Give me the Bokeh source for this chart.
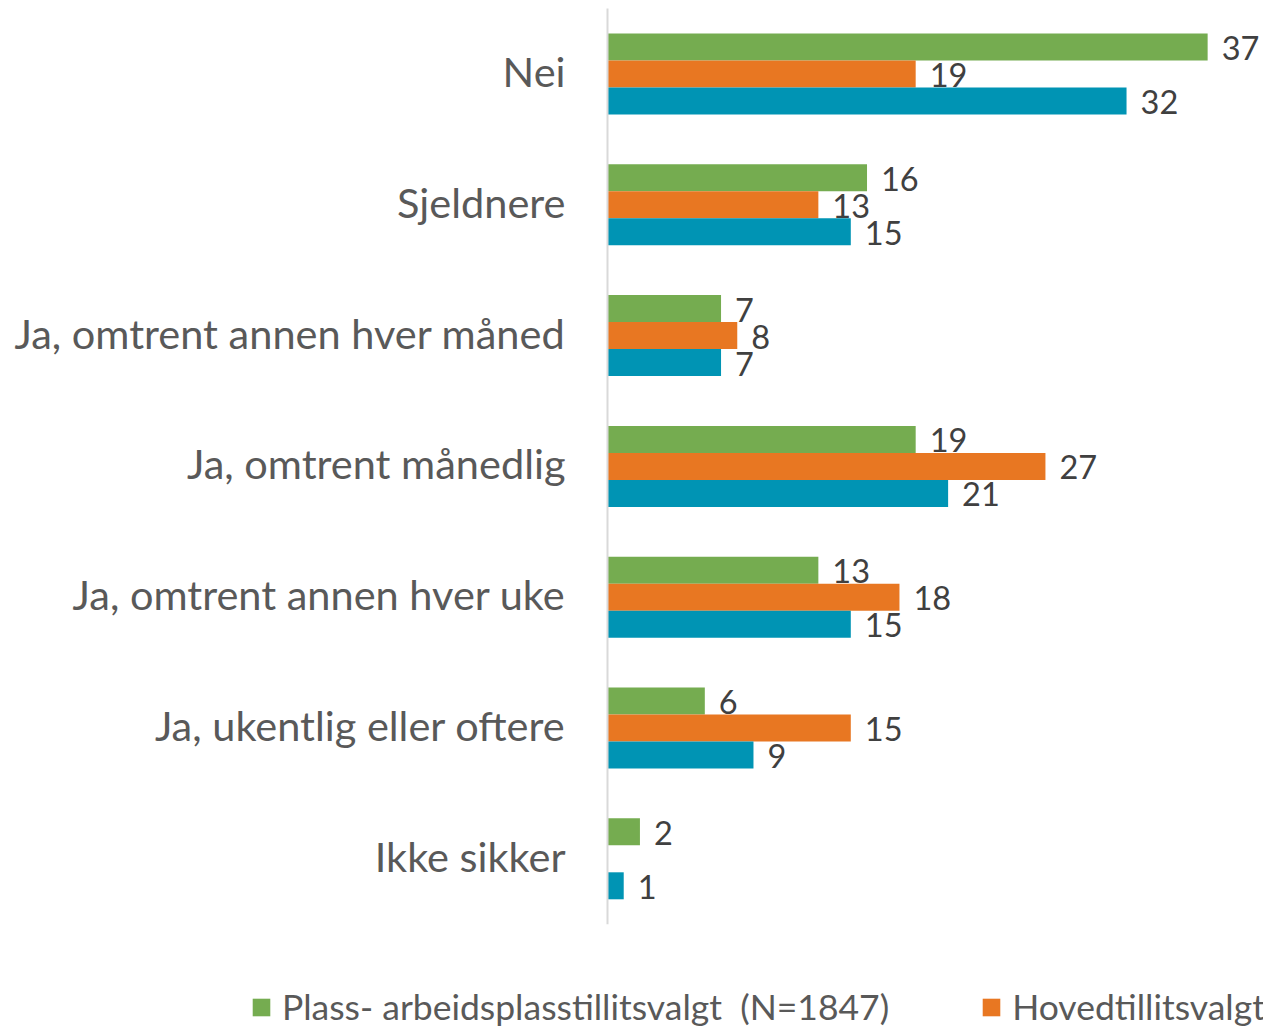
from bokeh.plotting import figure
from bokeh.models import ColumnDataSource, Range1d, LabelSet, Legend, LegendItem
from bokeh.core.properties import value
from bokeh.embed import file_html
from bokeh.resources import INLINE
import numpy as np

categories = ["Nei", "Sjeldnere", "Ja, omtrent annen hver måned", "Ja, omtrent månedlig",
              "Ja, omtrent annen hver uke", "Ja, ukentlig eller oftere", "Ikke sikker"]
plass = [37, 16, 7, 19, 13, 6, 2]
hoved = [19, 13, 8, 27, 18, 15, 0]
third = [32, 15, 7, 21, 15, 9, 1]
series_names = ["Plass- arbeidsplasstillitsvalgt  (N=1847)", "Hovedtillitsvalgt"]
colors = ["#75AC50", "#E87722", "#0094B4"]

FONT = "Lato"
W, H = 1263, 1027
PX_PER_UNIT = 16.22
X0 = 607
CAT_STEP = 130.8
CAT0 = 73.5
BAR_H = 27 / CAT_STEP

p = figure(width=W, height=H, output_backend="svg", toolbar_location=None,
           x_range=Range1d(-X0 / PX_PER_UNIT, (W - X0) / PX_PER_UNIT),
           y_range=Range1d((H - CAT0) / CAT_STEP, -CAT0 / CAT_STEP),
           min_border=0)
p.axis.visible = False
p.grid.visible = False
p.outline_line_color = None

idx = np.arange(len(categories))
renderers = []
for k, (vals, col) in enumerate(zip([plass, hoved, third], colors)):
    off = (k - 1) * BAR_H
    src = ColumnDataSource(dict(y=idx + off, v=vals))
    r = p.hbar(y="y", right="v", left=0, height=BAR_H, source=src,
               fill_color=col, line_color=None)
    renderers.append(r)
    mask = [v > 0 for v in vals]
    lsrc = ColumnDataSource(dict(y=[y for y, m in zip(idx + off, mask) if m],
                                 v=[v for v, m in zip(vals, mask) if m],
                                 t=[str(v) for v, m in zip(vals, mask) if m]))
    p.add_layout(LabelSet(x="v", y="y", text="t", source=lsrc, x_offset=14, y_offset=-1,
                          text_font=value(FONT), text_font_size="32.5px",
                          text_color="#404040", text_baseline="middle"))

# axis line
p.segment(x0=[0], y0=[-0.5], x1=[0], y1=[len(categories) - 0.5], line_color="#D9D9D9", line_width=2)

csrc = ColumnDataSource(dict(y=idx - 3 / CAT_STEP, t=categories))
p.text(x=-42 / PX_PER_UNIT, y="y", text="t", source=csrc, text_align="right",
       text_baseline="middle", text_font=value(FONT), text_font_size="41.5px",
       text_color="#595959")

legend = Legend(items=[LegendItem(label=series_names[0], renderers=[renderers[0]]),
                       LegendItem(label=series_names[1], renderers=[renderers[1]])],
                location=(250, -1), orientation="horizontal",
                glyph_width=22, glyph_height=22, label_standoff=10, spacing=91,
                padding=0, margin=0, border_line_color=None, background_fill_alpha=0,
                label_text_font=FONT, label_text_font_size="35.5px",
                label_text_color="#595959")
p.add_layout(legend, "center")

open("out.html", "w").write(file_html(p, INLINE))
